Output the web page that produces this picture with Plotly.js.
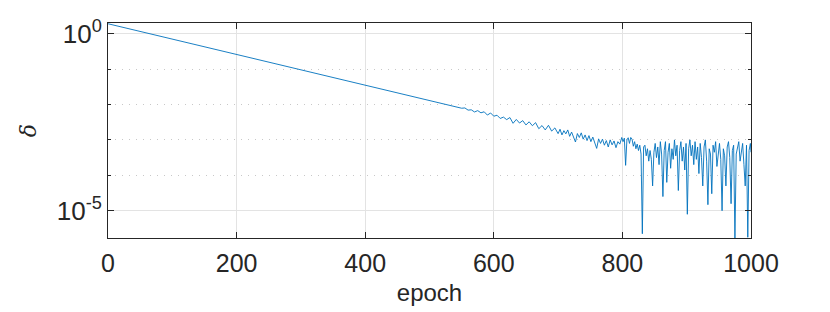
<!DOCTYPE html>
<html>
<head>
<meta charset="utf-8">
<script src="https://cdn.plot.ly/plotly-3.0.1.min.js"></script>
<style>
  html, body { margin: 0; padding: 0; background: #fff; }
  #chart { width: 830px; height: 312px; }
</style>
</head>
<body>
<div id="chart"></div>
<script>
// delta vs. epoch

const epochs = [
    0, 100, 200, 300, 400, 450, 540,
    545, 550, 555, 560, 565, 570, 575, 580, 585, 590, 595, 600,
    605, 610, 615, 620, 625, 630, 635, 640, 645, 650, 655, 660,
    665, 670, 675, 680, 685, 690, 695, 700,
    703, 706, 709, 712, 715, 718, 721, 724, 727, 730, 733, 736,
    739, 742, 745, 748, 751, 754, 757, 760, 763, 766, 769, 772,
    775, 778, 781, 784, 787, 790, 793, 796, 799,
    801, 803, 805, 807, 809, 811, 813, 815, 817, 819, 821, 823,
    825, 827, 829, 831, 833, 835, 837, 839, 841, 843, 845, 847,
    849, 851, 853, 855, 857, 859, 861, 863, 865, 867, 869, 871,
    873, 875, 877, 879, 881, 883, 885, 887, 889, 891, 893, 895,
    897, 899, 901, 903, 905, 907, 909, 911, 913, 915, 917, 919,
    921, 923, 925, 927, 929, 931, 933, 935, 937, 939, 941, 943,
    945, 947, 949, 951, 953, 955, 957, 959, 961, 963, 965, 967,
    969, 971, 973, 975, 977, 979, 981, 983, 985, 987, 989, 991,
    993, 995, 997, 999, 1000
];

const delta = [
    1.9, 0.705, 0.261, 9.64e-2, 3.56e-2, 2.17e-2, 8.87e-3,
    8.63e-3, 7.83e-3, 7.98e-3, 6.93e-3, 7.06e-3, 6.14e-3, 6.70e-3, 5.81e-3, 6.21e-3, 5.02e-3, 5.75e-3, 4.66e-3,
    4.97e-3, 4.03e-3, 4.40e-3, 3.73e-3, 4.27e-3, 2.94e-3, 3.78e-3, 2.99e-3, 3.50e-3, 2.64e-3, 3.24e-3, 2.51e-3,
    3.07e-3, 2.07e-3, 2.54e-3, 1.91e-3, 2.58e-3, 1.77e-3, 2.18e-3, 1.50e-3,
    2.00e-3, 1.38e-3, 1.82e-3, 1.48e-3, 1.91e-3, 1.26e-3, 1.66e-3, 1.12e-3, 8.71e-4, 1.51e-3, 1.17e-3, 1.58e-3,
    1.05e-3, 1.38e-3, 9.55e-4, 1.32e-3, 8.91e-4, 1.20e-3, 7.59e-4, 5.75e-4, 1.07e-3, 7.94e-4, 1.05e-3, 7.08e-4,
    9.55e-4, 6.31e-4, 1.00e-3, 7.24e-4, 9.33e-4, 6.03e-4, 8.91e-4, 7.59e-4, 1.17e-3,
    8.91e-4, 1.12e-3, 1.91e-4, 1.00e-3, 1.15e-3, 7.94e-4, 1.17e-3, 1.05e-3, 6.61e-4, 8.91e-4, 5.62e-4, 7.59e-4,
    5.01e-4, 7.08e-4, 3.98e-4, 2.24e-6, 6.31e-4, 7.08e-4, 3.55e-4, 5.62e-4, 2.51e-4, 5.01e-4, 2.82e-4, 5.01e-5,
    4.47e-4, 7.94e-4, 3.16e-4, 6.31e-4, 2.00e-4, 8.91e-4, 3.98e-4, 2.51e-5, 5.01e-4, 8.91e-4, 6.31e-5, 4.47e-4,
    7.94e-4, 1.58e-4, 5.62e-4, 2.82e-4, 1.00e-3, 3.55e-4, 7.08e-4, 3.72e-5, 5.01e-4, 8.91e-4, 2.51e-4, 6.31e-4,
    1.41e-4, 7.94e-4, 7.94e-6, 5.62e-4, 1.00e-3, 3.55e-4, 7.08e-4, 2.00e-4, 8.91e-4, 2.82e-4, 6.31e-4, 1.12e-4,
    7.94e-4, 3.16e-4, 5.01e-5, 6.31e-4, 1.00e-3, 2.51e-4, 1.48e-5, 5.62e-4, 3.98e-4, 3.02e-5, 7.08e-4, 4.47e-4,
    8.91e-4, 1.78e-4, 5.01e-4, 7.94e-4, 2.82e-4, 1.00e-5, 5.62e-4, 3.55e-4, 5.01e-5, 6.31e-4, 8.91e-4, 3.16e-4,
    1.58e-5, 5.01e-4, 7.08e-4, 1.58e-6, 3.98e-4, 6.31e-4, 8.91e-4, 2.51e-4, 5.62e-4, 7.94e-4, 2.00e-4, 5.01e-5,
    7.08e-4, 1.78e-6, 5.01e-4, 7.94e-4, 4.47e-4
];

const xTicks = [0, 200, 400, 600, 800, 1000];
const yTicks = [1, 1e-5];
const yTickText = ['10<sup>0</sup>', '10<sup>-5</sup>'];
const yMinorTicks = [1e-1, 1e-2, 1e-3, 1e-4];

const axisColor = '#262626';
const gridColor = '#e3e3e3';

const trace = {
    x: epochs,
    y: delta,
    type: 'scatter',
    mode: 'lines',
    line: {color: '#0072BD', width: 0.9},
    hoverinfo: 'x+y'
};

const layout = {
    width: 830,
    height: 312,
    margin: {l: 108, r: 79, t: 23, b: 74},
    paper_bgcolor: '#fff',
    plot_bgcolor: '#fff',
    showlegend: false,
    font: {family: 'Liberation Sans, Arial, sans-serif', color: axisColor},
    xaxis: {
        range: [0, 1000],
        tickmode: 'array',
        tickvals: xTicks,
        ticks: 'inside',
        ticklen: 6,
        tickcolor: axisColor,
        tickfont: {size: 25, color: axisColor},
        ticklabelstandoff: 3,
        showgrid: true,
        gridcolor: gridColor,
        zeroline: false,
        showline: true,
        linecolor: axisColor,
        linewidth: 1,
        mirror: 'ticks',
        title: {text: 'epoch', font: {size: 24, color: axisColor}, standoff: 8}
    },
    yaxis: {
        type: 'log',
        range: [-5.77, 0.30],
        tickmode: 'array',
        tickvals: yTicks,
        ticktext: yTickText,
        ticks: 'inside',
        ticklen: 6,
        tickcolor: axisColor,
        tickfont: {size: 26, color: axisColor},
        showgrid: true,
        gridcolor: gridColor,
        zeroline: false,
        showline: true,
        linecolor: axisColor,
        linewidth: 1,
        mirror: 'ticks',
        minor: {
            tickmode: 'array',
            tickvals: yMinorTicks,
            ticks: 'inside',
            ticklen: 3,
            tickcolor: axisColor,
            showgrid: true,
            gridcolor: '#c8c8c8',
            griddash: '1px,6px',
            gridwidth: 1
        },
        title: {text: '<i>δ</i>', font: {size: 22, color: axisColor, family: 'DejaVu Serif, serif'}, standoff: 14}
    }
};

Plotly.newPlot('chart', [trace], layout, {displayModeBar: false, staticPlot: true});
</script>
</body>
</html>
